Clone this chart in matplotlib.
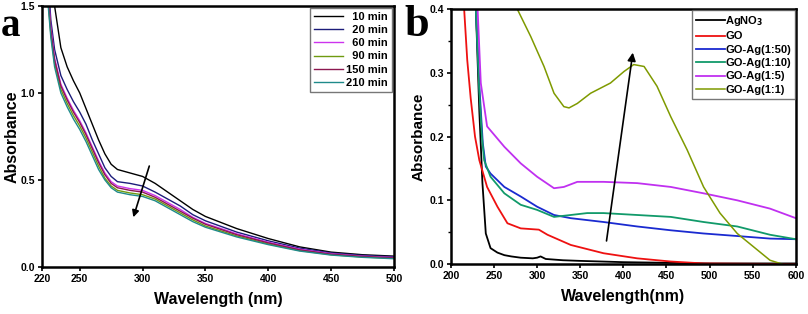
import numpy as np
from matplotlib import pyplot as plt

plt.rcParams['font.family'] = ['Liberation Sans', 'DejaVu Sans']
plt.rcParams['font.weight'] = 'bold'

# panel a: absorbance vs reaction time
wl_a = [224, 227, 230, 235, 240, 245, 250, 255, 260, 265, 270, 275, 280, 290,
        300, 310, 320, 330, 340, 350, 375, 400, 425, 450, 475, 500]
abs_10 = [2.3, 1.9, 1.50, 1.26, 1.15, 1.07, 1.00, 0.91, 0.82, 0.73, 0.65, 0.59,
          0.56, 0.54, 0.52, 0.48, 0.43, 0.38, 0.33, 0.29, 0.22, 0.163, 0.115, 0.085, 0.07, 0.062]
abs_20 = [1.75, 1.42, 1.25, 1.10, 1.02, 0.95, 0.89, 0.82, 0.73, 0.65, 0.57, 0.52,
          0.49, 0.48, 0.465, 0.43, 0.39, 0.35, 0.30, 0.265, 0.20, 0.150, 0.108, 0.080, 0.066, 0.058]
abs_60 = [1.65, 1.38, 1.20, 1.05, 0.97, 0.90, 0.84, 0.77, 0.69, 0.61, 0.54, 0.49,
          0.465, 0.45, 0.44, 0.41, 0.37, 0.33, 0.285, 0.25, 0.19, 0.142, 0.102, 0.076, 0.062, 0.054]
abs_90 = [1.60, 1.34, 1.17, 1.02, 0.94, 0.87, 0.81, 0.74, 0.66, 0.58, 0.51, 0.465,
          0.44, 0.425, 0.415, 0.39, 0.35, 0.31, 0.27, 0.235, 0.178, 0.132, 0.094, 0.070, 0.057, 0.049]
abs_150 = [1.62, 1.36, 1.19, 1.04, 0.96, 0.89, 0.83, 0.76, 0.68, 0.60, 0.53, 0.48,
           0.455, 0.44, 0.43, 0.40, 0.36, 0.32, 0.28, 0.245, 0.185, 0.138, 0.098, 0.073, 0.060, 0.052]
abs_210 = [1.58, 1.32, 1.15, 1.00, 0.92, 0.85, 0.79, 0.72, 0.64, 0.56, 0.50, 0.455,
           0.43, 0.415, 0.405, 0.38, 0.34, 0.30, 0.26, 0.228, 0.172, 0.128, 0.091, 0.068, 0.055, 0.047]
times = ['10 min', '20 min', '60 min', '90 min', '150 min', '210 min']
colors_a = ['#000000', '#1c1c7a', '#cc33ee', '#6f9a10', '#8c1850', '#1f8a8a']

# panel b: samples
wl_ag = [229, 233, 236.6, 240.5, 246, 254, 262, 270, 281, 295, 300, 304, 310, 330,
         350, 400, 450, 500, 550, 600]
abs_ag = [0.40, 0.24, 0.127, 0.048, 0.025, 0.018, 0.014, 0.012, 0.010, 0.009,
          0.010, 0.012, 0.008, 0.006, 0.005, 0.003, 0.002, 0.001, 0.001, 0.001]
wl_go = [215.4, 219, 223, 228, 233, 242, 254, 265.6, 281, 302, 312, 339, 377, 416, 455, 493, 540, 600]
abs_go = [0.40, 0.32, 0.26, 0.20, 0.163, 0.121, 0.09, 0.064, 0.056, 0.054, 0.046,
          0.030, 0.017, 0.009, 0.004, 0.001, 0.0005, 0.0]
wl_50 = [229, 233, 237, 240.5, 246, 262, 281, 300, 319.6, 339, 377, 416, 455, 493, 532, 570, 600]
abs_50 = [0.40, 0.28, 0.19, 0.153, 0.142, 0.121, 0.106, 0.090, 0.077, 0.072, 0.066,
          0.059, 0.053, 0.048, 0.044, 0.040, 0.039]
wl_10 = [229, 233, 236, 238.6, 246, 262, 281, 300, 319.6, 339, 358, 377, 416, 455, 493, 532, 570, 600]
abs_10b = [0.40, 0.27, 0.20, 0.163, 0.137, 0.111, 0.093, 0.085, 0.074, 0.077, 0.080,
           0.080, 0.077, 0.074, 0.066, 0.059, 0.046, 0.039]
wl_5 = [231, 234.7, 242, 262, 281, 300, 319.6, 331, 346.6, 377, 416, 455, 493, 532, 570, 600]
abs_5 = [0.40, 0.284, 0.216, 0.184, 0.158, 0.137, 0.119, 0.121, 0.129, 0.129, 0.127,
         0.121, 0.111, 0.100, 0.087, 0.072]
wl_1 = [277, 292.6, 308, 319.6, 331, 337, 346.6, 362, 385, 400.6, 412, 424, 439, 455,
        474, 493, 512, 532, 551, 570, 584, 590]
abs_1 = [0.40, 0.357, 0.31, 0.268, 0.247, 0.245, 0.252, 0.268, 0.284, 0.302, 0.313,
         0.31, 0.279, 0.231, 0.179, 0.121, 0.080, 0.048, 0.027, 0.006, 0.0, -0.004]
samples = ['AgNO$_3$', 'GO', 'GO-Ag(1:50)', 'GO-Ag(1:10)', 'GO-Ag(1:5)', 'GO-Ag(1:1)']
colors_b = ['#000000', '#ee1111', '#1a2ad0', '#119a6a', '#c030f0', '#7f9a00']

fig = plt.figure(figsize=(8.08, 3.14), dpi=100)
ax1 = fig.add_axes([0.052, 0.150, 0.4356, 0.831])
ax2 = fig.add_axes([0.558, 0.159, 0.427, 0.812])

for ys, lab, c in zip([abs_10, abs_20, abs_60, abs_90, abs_150, abs_210], times, colors_a):
    # two spaces = one digit width in Liberation Sans, keeps labels right-aligned
    ax1.plot(wl_a, ys, color=c, lw=1.0, label=lab if len(lab) > 6 else '  ' + lab)
ax1.set_xlim(220, 500)
ax1.set_ylim(0, 1.5)
ax1.set_xticks([220, 250, 300, 350, 400, 450, 500])
ax1.set_yticks([0.0, 0.5, 1.0, 1.5])
ax1.set_xlabel('Wavelength (nm)', fontsize=11.5, fontweight='bold', labelpad=6)
ax1.set_ylabel('Absorbance', fontsize=11.5, fontweight='bold', labelpad=1)
ax1.annotate('', xy=(292, 0.27), xytext=(306, 0.595),
             arrowprops=dict(arrowstyle='-|>', color='black', lw=1.2, mutation_scale=10))
leg1 = ax1.legend(loc='upper right', fontsize=8, frameon=True, fancybox=False,
                  handlelength=2.6, handletextpad=0.3, labelspacing=0.28,
                  borderpad=0.35, borderaxespad=0.2)
leg1.get_frame().set_edgecolor('#555555')

for (xs, ys), lab, c in zip([(wl_ag, abs_ag), (wl_go, abs_go), (wl_50, abs_50),
                             (wl_10, abs_10b), (wl_5, abs_5), (wl_1, abs_1)], samples, colors_b):
    ax2.plot(xs, ys, color=c, lw=1.3 if lab != 'GO-Ag(1:1)' else 1.1, label=lab)
ax2.set_xlim(200, 600)
ax2.set_ylim(0, 0.4)
ax2.set_xticks([200, 250, 300, 350, 400, 450, 500, 550, 600])
ax2.set_yticks([0.0, 0.1, 0.2, 0.3, 0.4])
ax2.set_yticks([0.05, 0.15, 0.25, 0.35], minor=True)
ax2.set_xlabel('Wavelength(nm)', fontsize=11.5, fontweight='bold', labelpad=6)
ax2.set_ylabel('Absorbance', fontsize=11, fontweight='bold', labelpad=3)
ax2.annotate('', xy=(411.4, 0.336), xytext=(380, 0.032),
             arrowprops=dict(arrowstyle='-|>', color='black', lw=1.2, mutation_scale=12))
leg2 = ax2.legend(loc='upper right', fontsize=8, frameon=True, fancybox=False,
                  handlelength=2.6, handletextpad=0.0, labelspacing=0.3,
                  borderpad=0.35, borderaxespad=0.1)
leg2.get_frame().set_edgecolor('#555555')

for ax in (ax1, ax2):
    for s in ax.spines.values():
        s.set_linewidth(1.8)
    ax.tick_params(direction='out', length=3, width=1.2, labelsize=7.5, pad=2)
    ax.tick_params(which='minor', direction='out', length=2, width=1.0)
    for lbl in ax.get_xticklabels() + ax.get_yticklabels():
        lbl.set_fontweight('bold')

fig.text(0.001, 0.975, 'a', family='Liberation Serif', fontsize=28, fontweight='bold', va='top')
fig.text(0.501, 0.985, 'b', family='Liberation Serif', fontsize=32, fontweight='bold', va='top')

fig.savefig('out.png', dpi=100)
